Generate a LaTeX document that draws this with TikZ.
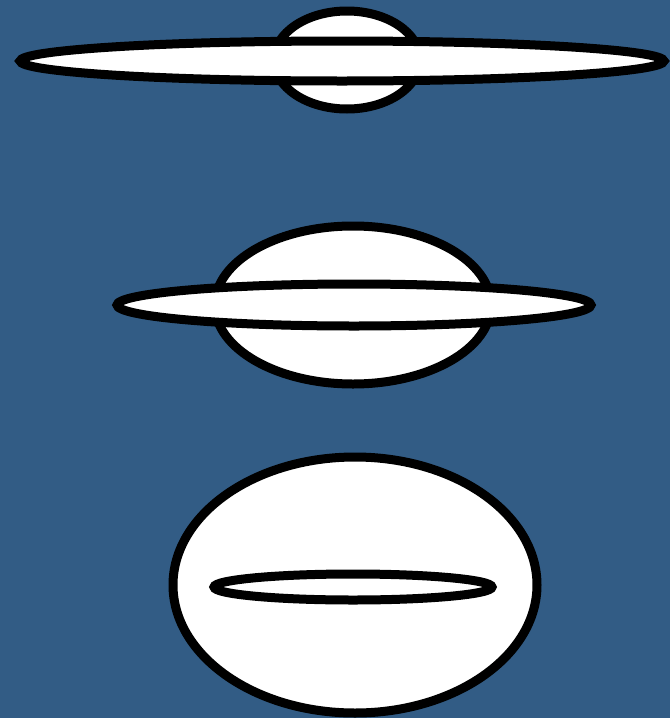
\documentclass[tikz,border=0pt]{standalone}
\usepackage{xcolor}
\definecolor{skyblue}{RGB}{50,92,133}
\usetikzlibrary{calc}

\begin{document}
\begin{tikzpicture}[x=1pt,y=-1pt,
    disc/.style={draw=black,fill=white,line width=9pt}]
  % Background
  \fill[skyblue] (0,0) rectangle (670,718);
  \useasboundingbox (0,0) rectangle (670,718);

  % Top: small body, very flat disc
  \draw[disc] (347,60) ellipse [x radius=73,y radius=49];
  \draw[disc] (342,61) ellipse [x radius=322,y radius=20];

  % Middle: larger body, flat disc
  \draw[disc] (353,305) ellipse [x radius=138,y radius=79];
  \draw[disc] (354,305) ellipse [x radius=237,y radius=21];

  % Bottom: big body, disc inside
  \draw[disc] (355,585) ellipse [x radius=182,y radius=128];
  \draw[disc] (353,587) ellipse [x radius=139,y radius=13];
\end{tikzpicture}
\end{document}
